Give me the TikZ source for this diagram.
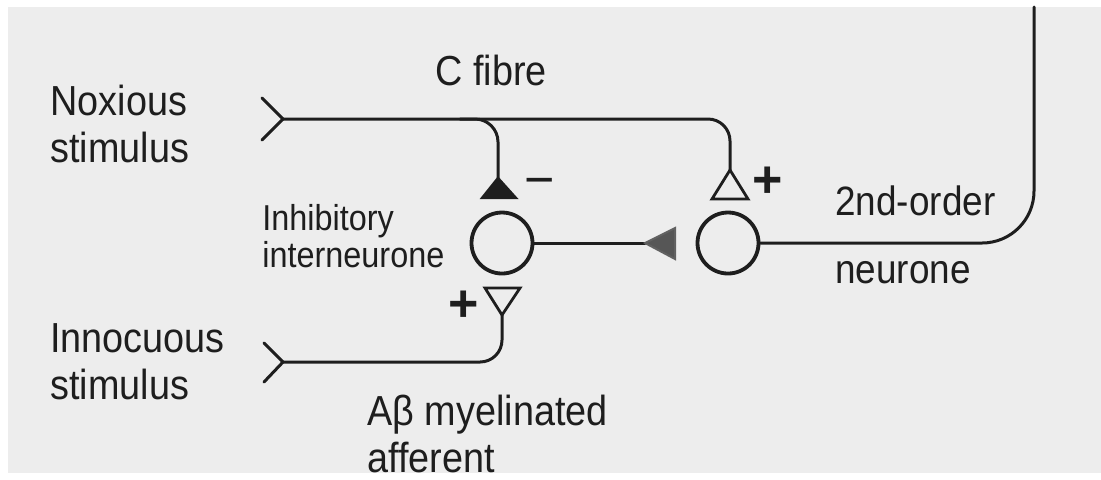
\documentclass[tikz,border=0pt]{standalone}
\usepackage{fontspec}
\setmainfont{Liberation Sans}
\newfontfamily\labfont[FakeStretch=0.9]{Liberation Sans}
\definecolor{paper}{HTML}{EDEDED}
\definecolor{ink}{HTML}{1E1E1E}
\begin{document}
\begin{tikzpicture}[x=0.5pt,y=-0.5pt,
  fibre/.style={draw=ink, line width=1.5pt, line join=round, line cap=round},
  neuron/.style={circle, draw=ink, line width=1.9pt, minimum size=30.5pt, inner sep=0pt},
  lab/.style={font=\labfont\fontsize{21}{23.5}\selectfont, text=ink, inner sep=0pt, anchor=base west, align=left},
  smalllab/.style={lab, font=\labfont\fontsize{18}{18.5}\selectfont},
  farlab/.style={lab, font=\labfont\fontsize{20.5}{34}\selectfont},
  sign/.style={font=\fontsize{26}{26}\selectfont\bfseries, text=ink, inner sep=0pt},
  signthin/.style={font=\fontsize{26}{26}\selectfont, text=ink, inner sep=0pt},
  synopen/.style={draw=ink, line width=1.4pt, fill=paper, line join=miter},
  synfill/.style={draw=ink, line width=1.2pt, fill=ink, line join=miter},
  synhalf/.style={draw=ink!70, line width=1pt, fill=ink!75, line join=miter},
]
\useasboundingbox (0,0) rectangle (1101,479);
\fill[paper] (8,7) rectangle (1101,473);

% neurones
\node[neuron] (inter) at (502,243) {};
\node[neuron] (second) at (728,243) {};

% synapse apex points
\coordinate (exsyn) at (730,170);
\coordinate (inhsyn) at (498,178);
\coordinate (absyn) at (502,315);
\coordinate (midsyn) at (645,243);

% fibre ends
\coordinate (cfork) at (283,119);
\coordinate (cfa) at (262,98);
\coordinate (cfb) at (262,140);
\coordinate (cbranch) at (460,119);
\coordinate (afork) at (283,362);
\coordinate (afa) at (264,343);
\coordinate (afb) at (264,382);
\coordinate (top) at (1034,7);

% C fibre
\draw[fibre] (cfa) -- (cfork) -- (cfb);
\draw[fibre, rounded corners=11pt] (cfork) -| (exsyn);
\draw[fibre, rounded corners=11.5pt] (cbranch) -| (inhsyn);

% A-beta afferent
\draw[fibre] (afa) -- (afork) -- (afb);
\draw[fibre, rounded corners=11pt] (afork) -| (absyn);

% interneurone to 2nd-order neurone
\draw[fibre] (inter.east) -- (midsyn);

% 2nd-order neurone output
\draw[fibre, rounded corners=26pt] (second.east) -| (top);

% synapses
\draw[synopen] (exsyn) -- ++(-18,29) -- ++(36,0) -- cycle;
\draw[synopen] (absyn) -- ++(-17,-27) -- ++(35,0) -- cycle;
\draw[synfill] (inhsyn) -- ++(-16,20) -- ++(34,0) -- cycle;
\draw[synhalf] (midsyn) -- ++(30,-15) -- ++(0,31) -- cycle;

% signs
\node[signthin] (minus) at (540,188) {−};
\node[sign] (plusex) at (768,182) {+};
\node[sign] (plusab) at (464,306) {+};

% labels (anchor = baseline of the last line)
\node[lab] (noxious) at (50,162) {Noxious\\stimulus};
\node[lab] (innoc) at (50,399) {Innocuous\\stimulus};
\node[lab] (cfibre) at (435,85) {C fibre};
\node[lab] (abeta) at (367,472) {Aβ myelinated\\afferent};
\node[smalllab] (interlab) at (262,267) {Inhibitory\\interneurone};
\node[farlab] (seclab) at (835,283) {2nd-order\\neurone};
\end{tikzpicture}
\end{document}
